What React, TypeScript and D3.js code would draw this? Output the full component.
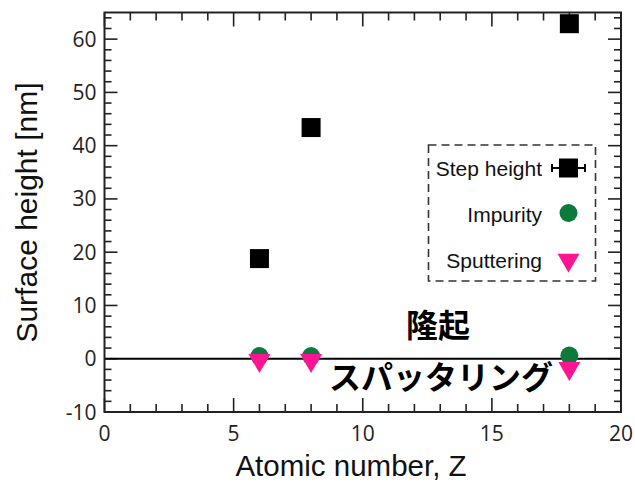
import React from "react";
import * as d3 from "d3";

// Atomic numbers of the measured elements
const atomicNumbers = [6, 8, 18];
// Surface step height [nm]
const stepHeight = [18.8, 43.4, 62.9];
// Impurity contribution [nm]
const impurity = [0.5, 0.5, 0.6];
// Sputtering contribution [nm]
const sputtering = [-0.3, -0.3, -1.8];

const xTickLabels = [0, 5, 10, 15, 20];
const yTickLabels = [-10, 0, 10, 20, 30, 40, 50, 60];

const legendItems = ["Step height", "Impurity", "Sputtering"];

const W = 635;
const H = 489;
const M = { left: 104.5, right: 621, top: 12.5, bottom: 412 };

const GREEN = "#0b7a3b";
const PINK = "#ff1493";
const TICK_FONT = "'Open Sans', 'Noto Sans', sans-serif";
const LABEL_FONT = "'Liberation Sans', Arial, sans-serif";

export default function App() {
  const x = d3.scaleLinear().domain([0, 20]).range([M.left, M.right]);
  const y = d3.scaleLinear().domain([-10, 65]).range([M.bottom, M.top]);

  const xMinor = d3.range(0, 21, 1);
  const yMinor = d3.range(-10, 65, 2);

  const tri = d3.symbol().type(d3.symbolTriangle).size(210)();
  const sq = 19;

  const frameColor = "#222";

  return (
    <svg width={W} height={H} style={{ position: "absolute", left: 0, top: 0, background: "#fff" }}>
      {/* ticks pointing inward on all four sides */}
      <g stroke={frameColor} strokeWidth={1.6}>
        {xMinor.map((v) => {
          const major = v % 5 === 0;
          const len = major ? 14 : 8;
          return (
            <g key={"xt" + v}>
              <line x1={x(v)} x2={x(v)} y1={M.bottom} y2={M.bottom - len} />
              <line x1={x(v)} x2={x(v)} y1={M.top} y2={M.top + len} />
            </g>
          );
        })}
        {yMinor.map((v) => {
          const major = v % 10 === 0;
          const len = major ? 13 : 7;
          return (
            <g key={"yt" + v}>
              <line x1={M.left} x2={M.left + len} y1={y(v)} y2={y(v)} />
              <line x1={M.right} x2={M.right - len} y1={y(v)} y2={y(v)} />
            </g>
          );
        })}
      </g>

      {/* zero line */}
      <line x1={M.left} x2={M.right} y1={y(0)} y2={y(0)} stroke="#000" strokeWidth={2.2} />

      {/* frame */}
      <rect
        x={M.left}
        y={M.top}
        width={M.right - M.left}
        height={M.bottom - M.top}
        fill="none"
        stroke={frameColor}
        strokeWidth={2}
      />

      {/* tick labels */}
      <g fontFamily={TICK_FONT} fontSize={21} fill="#222">
        {yTickLabels.map((v) => (
          <text key={"yl" + v} x={M.left - 8} y={y(v)} dy="0.36em" textAnchor="end">
            {v}
          </text>
        ))}
        {xTickLabels.map((v) => (
          <text key={"xl" + v} x={x(v)} y={M.bottom + 29} textAnchor="middle">
            {v}
          </text>
        ))}
      </g>

      {/* axis titles */}
      <text
        x={351}
        y={476}
        textAnchor="middle"
        fontFamily={LABEL_FONT}
        fontSize={29.5}
        fill="#111"
      >
        Atomic number, Z
      </text>
      <text
        transform={`translate(37,${212.5}) rotate(-90)`}
        textAnchor="middle"
        fontFamily={LABEL_FONT}
        fontSize={30}
        fill="#111"
      >
        Surface height [nm]
      </text>

      {/* data: impurity circles, sputtering triangles, step height squares */}
      {atomicNumbers.map((z, i) => (
        <circle key={"im" + z} cx={x(z)} cy={y(impurity[i])} r={9} fill={GREEN} />
      ))}
      {atomicNumbers.map((z, i) => (
        <path
          key={"sp" + z}
          d={tri}
          transform={`translate(${x(z)},${y(sputtering[i])}) rotate(180)`}
          fill={PINK}
        />
      ))}
      {atomicNumbers.map((z, i) => (
        <rect
          key={"st" + z}
          x={x(z) - sq / 2}
          y={y(stepHeight[i]) - sq / 2}
          width={sq}
          height={sq}
          fill="#000"
        />
      ))}

      {/* annotations */}
      <text
        x={438}
        y={337}
        textAnchor="middle"
        fontFamily="'Noto Sans CJK JP', sans-serif"
        fontWeight={700}
        fontSize={32}
        fill="#000"
      >
        隆起
      </text>
      <text
        x={441}
        y={389}
        textAnchor="middle"
        fontFamily="'Noto Sans CJK JP', sans-serif"
        fontWeight={700}
        fontSize={32}
        fill="#000"
      >
        スパッタリング
      </text>

      {/* legend */}
      <g>
        <rect
          x={428.5}
          y={145}
          width={167}
          height={136}
          fill="#fff"
          stroke="#333"
          strokeWidth={1.6}
          strokeDasharray="8 5"
        />
        <g fontFamily={LABEL_FONT} fontSize={21} fill="#111" textAnchor="end">
          <text x={542} y={176}>{legendItems[0]}</text>
          <text x={542} y={222}>{legendItems[1]}</text>
          <text x={542} y={268}>{legendItems[2]}</text>
        </g>
        <g stroke="#000" strokeWidth={2}>
          <line x1={552} x2={585} y1={168} y2={168} />
          <line x1={552} x2={552} y1={164} y2={172} />
          <line x1={585} x2={585} y1={164} y2={172} />
        </g>
        <rect x={568.5 - sq / 2} y={168 - sq / 2} width={sq} height={sq} fill="#000" />
        <circle cx={568.5} cy={213} r={9} fill={GREEN} />
        <path d={tri} transform={`translate(568.5,260) rotate(180)`} fill={PINK} />
      </g>
    </svg>
  );
}
